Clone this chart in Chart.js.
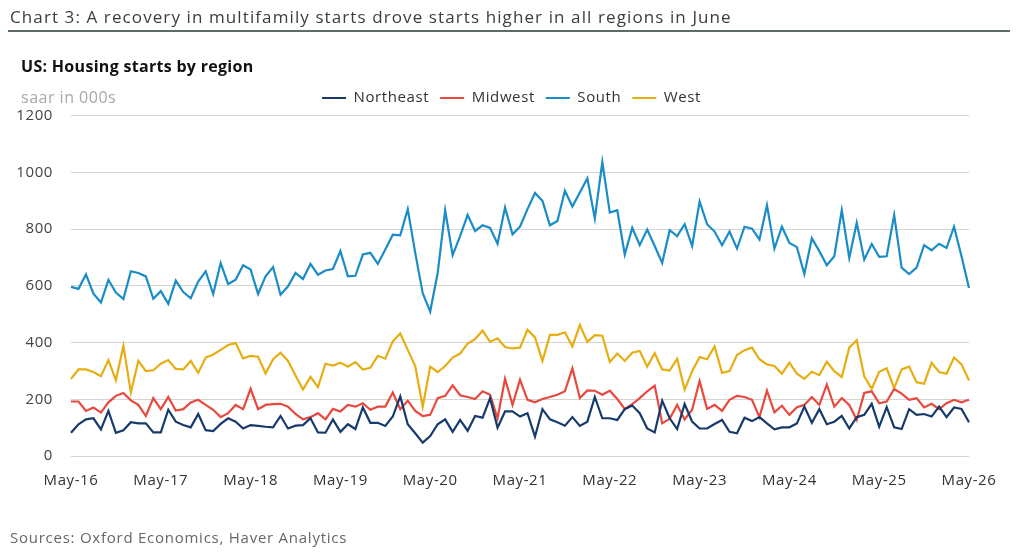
<!DOCTYPE html>
<html>
<head>
<meta charset="utf-8">
<script src="https://cdn.jsdelivr.net/npm/chart.js@4"></script>
<style>
  body { margin: 0; background: #fff; font-family: "Open Sans", sans-serif; }
  #wrap { position: relative; width: 1024px; height: 557px; overflow: hidden; }
  #chart { position: absolute; left: 0; top: 0; }
  .txt { position: absolute; white-space: nowrap; }
  #title { left: 10px; top: 5px; font-size: 17px; letter-spacing: 1.1px; color: #3c3c3c; }
  #rule { position: absolute; left: 8px; top: 30px; width: 1002px; height: 2px; background: #5d6b6b; }
  #sub { left: 21px; top: 55px; font-size: 16px; font-weight: 700; letter-spacing: 0.3px; color: #111; }
  #unit { left: 21px; top: 86px; font-size: 16px; letter-spacing: 0.5px; color: #a8a8a8; }
  #src { left: 10px; top: 527px; font-size: 15px; letter-spacing: 0.75px; color: #666; }
</style>
</head>
<body>
<div id="wrap">
  <canvas id="chart" width="1024" height="557"></canvas>
  <div class="txt" id="title">Chart 3: A recovery in multifamily starts drove starts higher in all regions in June</div>
  <div id="rule"></div>
  <div class="txt" id="sub">US: Housing starts by region</div>
  <div class="txt" id="unit">saar in 000s</div>
  <div class="txt" id="src">Sources: Oxford Economics, Haver Analytics</div>
</div>
<script>
// monthly, May-16 .. May-26
const monthNames = ['Jan','Feb','Mar','Apr','May','Jun','Jul','Aug','Sep','Oct','Nov','Dec']
const categories = []
for (let k = 0; k <= 120; k++) {
  const m = (4 + k) % 12
  const yr = 16 + Math.floor((4 + k) / 12)
  categories.push(monthNames[m] + '-' + yr)
}
const yTicks = [0, 200, 400, 600, 800, 1000, 1200]

const northeast = [
  82,112,129,133,94,159,82,91,119,115,115,83,83,163,121,109,101,148,91,88,113,133,121,97,
  109,106,103,101,141,97,107,109,133,83,82,129,85,112,95,171,117,117,106,139,210,112,80,47,
  70,112,129,85,127,89,141,135,204,100,157,157,139,151,68,165,129,119,107,137,106,121,208,133,
  133,127,165,178,151,97,83,195,133,95,183,121,97,97,113,127,85,80,135,123,137,115,94,101,
  101,115,174,117,165,112,121,141,97,137,145,184,103,172,101,95,165,145,148,139,174,137,171,166,119
]
const midwest = [
  192,192,159,171,153,189,212,222,196,180,141,204,165,208,160,165,189,198,180,163,137,151,180,165,
  237,165,180,183,184,174,148,129,137,151,129,166,157,180,174,186,163,174,174,224,165,195,159,141,
  145,204,212,249,214,208,201,228,216,133,272,180,269,198,189,201,208,216,228,309,204,231,230,216,
  230,201,166,183,204,228,248,115,131,180,129,163,264,166,180,159,198,212,208,198,137,230,154,177,
  145,172,180,208,180,252,174,204,180,127,222,228,186,192,236,220,198,204,171,184,165,186,198,189,198
]
const south = [
  596,589,640,572,541,621,576,553,651,645,633,554,581,536,618,578,556,615,651,571,680,606,621,672,
  657,571,633,666,568,598,645,624,677,639,654,659,722,633,635,710,716,677,728,780,778,870,716,574,
  509,645,866,708,775,850,793,813,804,748,876,781,808,870,927,899,813,828,935,879,929,979,837,1036,
  858,866,710,804,743,798,740,680,796,775,817,740,897,817,791,743,791,731,808,801,763,884,731,808,
  751,736,641,767,722,672,704,866,698,822,692,747,702,704,849,664,641,664,743,725,748,733,808,704,592
]
const west = [
  272,305,305,296,281,338,267,388,224,335,299,302,325,338,307,305,335,293,347,358,374,391,398,344,
  353,350,291,341,364,335,284,234,279,243,325,319,329,315,331,305,311,353,343,404,432,374,317,174,
  315,296,317,347,361,396,412,442,402,415,384,379,382,445,418,335,427,427,436,386,462,402,426,424,
  331,361,335,364,370,315,362,305,301,343,234,299,349,341,386,293,299,356,373,382,341,323,317,290,
  329,290,272,297,285,332,299,278,382,408,281,237,297,309,240,305,315,260,255,329,296,290,347,323,266
]

const seriesNames = ['Northeast', 'Midwest', 'South', 'West']
const seriesColors = ['#173a6c', '#e8493e', '#1a8cc6', '#e6ae12']
const seriesData = [northeast, midwest, south, west]

const datasets = seriesNames.map((name, i) => ({
  label: name,
  data: seriesData[i],
  borderColor: seriesColors[i],
  backgroundColor: seriesColors[i],
  borderWidth: 2.2,
  pointRadius: 0,
  tension: 0,
  fill: false
}))

// canvas text is a bit tighter than the original font, so space it out
// also the legend is centred on the whole page, not on the padded box
const tweaks = {
  id: 'tweaks',
  beforeLayout(chart) { chart.ctx.letterSpacing = '0.6px' },
  afterLayout(chart) {
    const shift = 27
    chart.legend.left += shift
    chart.legend.right += shift
  },
  beforeDraw(chart) { chart.ctx.letterSpacing = '0.6px' }
}

const tickFont = { family: 'Open Sans', size: 15 }

new Chart(document.getElementById('chart'), {
  type: 'line',
  data: { labels: categories, datasets },
  plugins: [tweaks],
  options: {
    responsive: false,
    animation: false,
    layout: { padding: { left: 0, right: 55, top: 79.5, bottom: 61 } },
    plugins: {
      tooltip: { enabled: false },
      legend: {
        position: 'top',
        align: 'center',
        labels: {
          usePointStyle: true,
          pointStyle: 'line',
          pointStyleWidth: 24,
          color: '#333',
          padding: 11,
          font: tickFont
        }
      }
    },
    scales: {
      x: {
        afterFit: axis => { axis.height = 40 },
        grid: { display: false, drawTicks: false },
        border: { display: false },
        ticks: {
          autoSkip: false,
          maxRotation: 0,
          padding: 16,
          color: '#333',
          font: tickFont,
          callback: (v, i) => (i % 12 === 0 ? categories[i] : null)
        }
      },
      y: {
        min: 0,
        max: 1200,
        afterFit: axis => { axis.width = 71 },
        afterBuildTicks: axis => { axis.ticks = yTicks.map(v => ({ value: v })) },
        grid: { color: '#d4d4d4', lineWidth: 1, drawTicks: false },
        border: { display: false },
        ticks: {
          padding: 18,
          color: '#444',
          font: tickFont,
          callback: v => String(v)
        }
      }
    }
  }
})
</script>
</body>
</html>
